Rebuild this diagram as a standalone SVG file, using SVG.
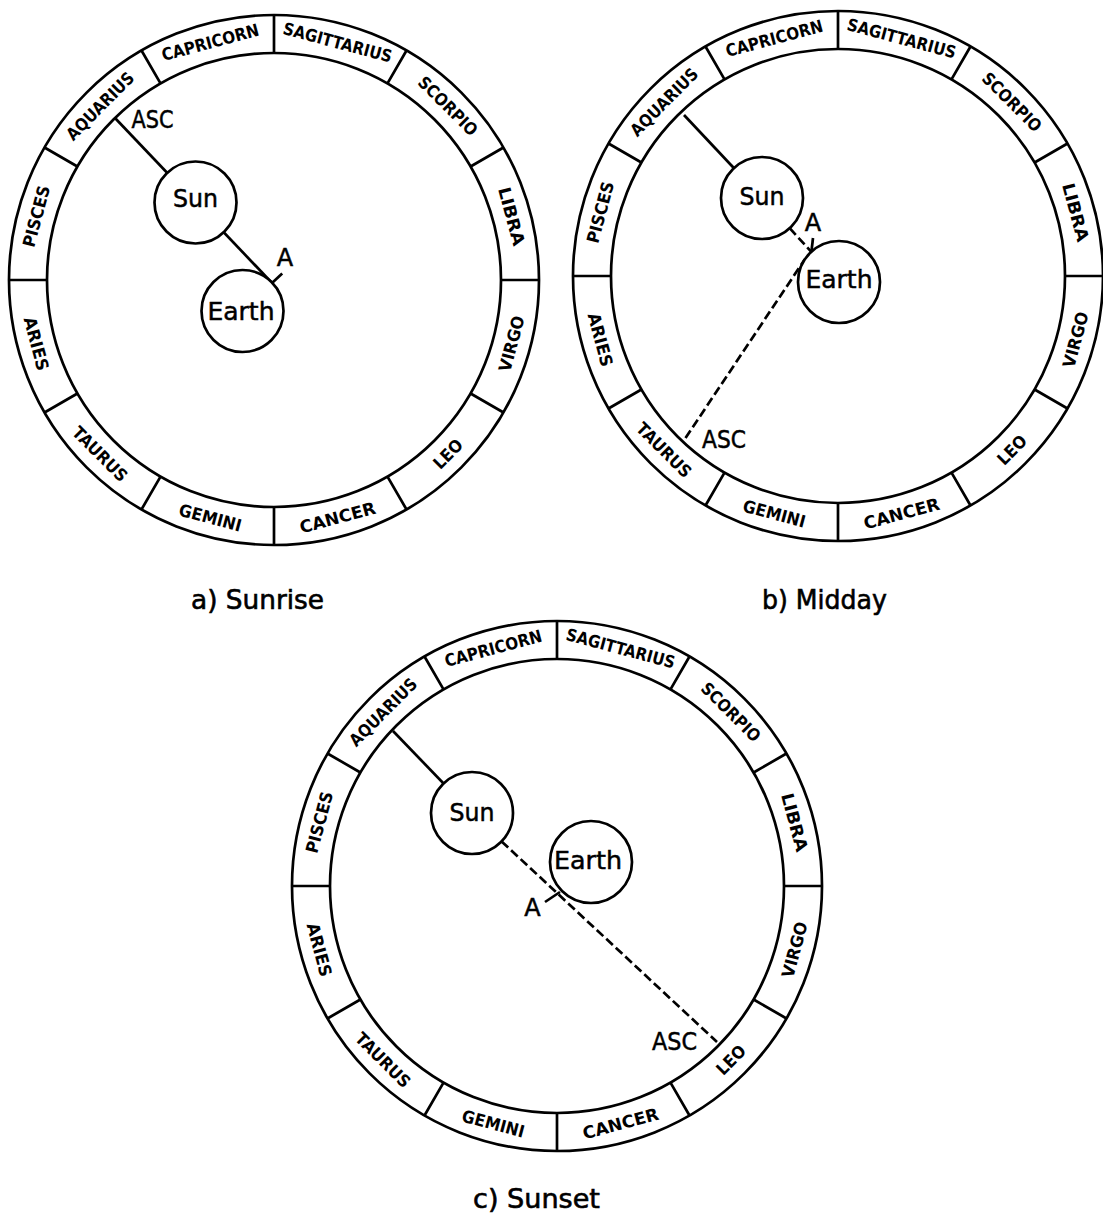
<svg xmlns="http://www.w3.org/2000/svg" width="1103" height="1222" viewBox="0 0 1103 1222">
<style>
.ring{fill:none;stroke:#000;stroke-width:2.7}
.sign{font-family:"DejaVu Sans",sans-serif;font-weight:bold;font-size:17px;text-anchor:middle;fill:#000}
.body{fill:#fff;stroke:#000;stroke-width:2.7}
.lbl{font-family:"DejaVu Sans",sans-serif;font-size:24px;fill:#000;stroke:#000;stroke-width:0.5}
.mid{text-anchor:middle}
.solid{stroke:#000;stroke-width:2.7;fill:none}
.dash{stroke:#000;stroke-width:2.7;stroke-dasharray:9 4;fill:none}
.cap{font-family:"DejaVu Sans",sans-serif;font-size:26px;text-anchor:middle;fill:#000;stroke:#000;stroke-width:0.6}
</style>
<rect width="1103" height="1222" fill="#fff"/>

<g id="wheel-a" transform="translate(274,280)">
<circle class="ring" r="265"/><circle class="ring" r="227"/>
<path class="ring" d="M0,-227V-265M113.5,-196.6L132.5,-229.5M196.6,-113.5L229.5,-132.5M227,0H265M196.6,113.5L229.5,132.5M113.5,196.6L132.5,229.5M0,227V265M-113.5,196.6L-132.5,229.5M-196.6,113.5L-229.5,132.5M-227,0H-265M-196.6,-113.5L-229.5,-132.5M-113.5,-196.6L-132.5,-229.5"/>
<text class="sign" transform="translate(63.67,-237.62) rotate(15)" y="6" textLength="112" lengthAdjust="spacingAndGlyphs">SAGITTARIUS</text>
<text class="sign" transform="translate(173.95,-173.95) rotate(45)" y="6" textLength="76" lengthAdjust="spacingAndGlyphs">SCORPIO</text>
<text class="sign" transform="translate(237.62,-63.67) rotate(75)" y="6" textLength="60" lengthAdjust="spacingAndGlyphs">LIBRA</text>
<text class="sign" transform="translate(237.62,63.67) rotate(-75)" y="6" textLength="57" lengthAdjust="spacingAndGlyphs">VIRGO</text>
<text class="sign" transform="translate(173.95,173.95) rotate(-45)" y="6" textLength="34" lengthAdjust="spacingAndGlyphs">LEO</text>
<text class="sign" transform="translate(63.67,237.62) rotate(-15)" y="6" textLength="78" lengthAdjust="spacingAndGlyphs">CANCER</text>
<text class="sign" transform="translate(-63.67,237.62) rotate(15)" y="6" textLength="64" lengthAdjust="spacingAndGlyphs">GEMINI</text>
<text class="sign" transform="translate(-173.95,173.95) rotate(45)" y="6" textLength="70" lengthAdjust="spacingAndGlyphs">TAURUS</text>
<text class="sign" transform="translate(-237.62,63.67) rotate(75)" y="6" textLength="55" lengthAdjust="spacingAndGlyphs">ARIES</text>
<text class="sign" transform="translate(-237.62,-63.67) rotate(-75)" y="6" textLength="63" lengthAdjust="spacingAndGlyphs">PISCES</text>
<text class="sign" transform="translate(-173.95,-173.95) rotate(-45)" y="6" textLength="88" lengthAdjust="spacingAndGlyphs">AQUARIUS</text>
<text class="sign" transform="translate(-63.67,-237.62) rotate(-15)" y="6" textLength="100" lengthAdjust="spacingAndGlyphs">CAPRICORN</text>
</g>

<g id="wheel-b" transform="translate(838,276)">
<circle class="ring" r="265"/><circle class="ring" r="227"/>
<path class="ring" d="M0,-227V-265M113.5,-196.6L132.5,-229.5M196.6,-113.5L229.5,-132.5M227,0H265M196.6,113.5L229.5,132.5M113.5,196.6L132.5,229.5M0,227V265M-113.5,196.6L-132.5,229.5M-196.6,113.5L-229.5,132.5M-227,0H-265M-196.6,-113.5L-229.5,-132.5M-113.5,-196.6L-132.5,-229.5"/>
<text class="sign" transform="translate(63.67,-237.62) rotate(15)" y="6" textLength="112" lengthAdjust="spacingAndGlyphs">SAGITTARIUS</text>
<text class="sign" transform="translate(173.95,-173.95) rotate(45)" y="6" textLength="76" lengthAdjust="spacingAndGlyphs">SCORPIO</text>
<text class="sign" transform="translate(237.62,-63.67) rotate(75)" y="6" textLength="60" lengthAdjust="spacingAndGlyphs">LIBRA</text>
<text class="sign" transform="translate(237.62,63.67) rotate(-75)" y="6" textLength="57" lengthAdjust="spacingAndGlyphs">VIRGO</text>
<text class="sign" transform="translate(173.95,173.95) rotate(-45)" y="6" textLength="34" lengthAdjust="spacingAndGlyphs">LEO</text>
<text class="sign" transform="translate(63.67,237.62) rotate(-15)" y="6" textLength="78" lengthAdjust="spacingAndGlyphs">CANCER</text>
<text class="sign" transform="translate(-63.67,237.62) rotate(15)" y="6" textLength="64" lengthAdjust="spacingAndGlyphs">GEMINI</text>
<text class="sign" transform="translate(-173.95,173.95) rotate(45)" y="6" textLength="70" lengthAdjust="spacingAndGlyphs">TAURUS</text>
<text class="sign" transform="translate(-237.62,63.67) rotate(75)" y="6" textLength="55" lengthAdjust="spacingAndGlyphs">ARIES</text>
<text class="sign" transform="translate(-237.62,-63.67) rotate(-75)" y="6" textLength="63" lengthAdjust="spacingAndGlyphs">PISCES</text>
<text class="sign" transform="translate(-173.95,-173.95) rotate(-45)" y="6" textLength="88" lengthAdjust="spacingAndGlyphs">AQUARIUS</text>
<text class="sign" transform="translate(-63.67,-237.62) rotate(-15)" y="6" textLength="100" lengthAdjust="spacingAndGlyphs">CAPRICORN</text>
</g>

<g id="wheel-c" transform="translate(557,886)">
<circle class="ring" r="265"/><circle class="ring" r="227"/>
<path class="ring" d="M0,-227V-265M113.5,-196.6L132.5,-229.5M196.6,-113.5L229.5,-132.5M227,0H265M196.6,113.5L229.5,132.5M113.5,196.6L132.5,229.5M0,227V265M-113.5,196.6L-132.5,229.5M-196.6,113.5L-229.5,132.5M-227,0H-265M-196.6,-113.5L-229.5,-132.5M-113.5,-196.6L-132.5,-229.5"/>
<text class="sign" transform="translate(63.67,-237.62) rotate(15)" y="6" textLength="112" lengthAdjust="spacingAndGlyphs">SAGITTARIUS</text>
<text class="sign" transform="translate(173.95,-173.95) rotate(45)" y="6" textLength="76" lengthAdjust="spacingAndGlyphs">SCORPIO</text>
<text class="sign" transform="translate(237.62,-63.67) rotate(75)" y="6" textLength="60" lengthAdjust="spacingAndGlyphs">LIBRA</text>
<text class="sign" transform="translate(237.62,63.67) rotate(-75)" y="6" textLength="57" lengthAdjust="spacingAndGlyphs">VIRGO</text>
<text class="sign" transform="translate(173.95,173.95) rotate(-45)" y="6" textLength="34" lengthAdjust="spacingAndGlyphs">LEO</text>
<text class="sign" transform="translate(63.67,237.62) rotate(-15)" y="6" textLength="78" lengthAdjust="spacingAndGlyphs">CANCER</text>
<text class="sign" transform="translate(-63.67,237.62) rotate(15)" y="6" textLength="64" lengthAdjust="spacingAndGlyphs">GEMINI</text>
<text class="sign" transform="translate(-173.95,173.95) rotate(45)" y="6" textLength="70" lengthAdjust="spacingAndGlyphs">TAURUS</text>
<text class="sign" transform="translate(-237.62,63.67) rotate(75)" y="6" textLength="55" lengthAdjust="spacingAndGlyphs">ARIES</text>
<text class="sign" transform="translate(-237.62,-63.67) rotate(-75)" y="6" textLength="63" lengthAdjust="spacingAndGlyphs">PISCES</text>
<text class="sign" transform="translate(-173.95,-173.95) rotate(-45)" y="6" textLength="88" lengthAdjust="spacingAndGlyphs">AQUARIUS</text>
<text class="sign" transform="translate(-63.67,-237.62) rotate(-15)" y="6" textLength="100" lengthAdjust="spacingAndGlyphs">CAPRICORN</text>
</g>

<g id="connectors">
<line class="solid" x1="115" y1="118" x2="272" y2="283"/>
<line class="solid" x1="272" y1="283" x2="282.2" y2="273.4"/>
<line class="solid" x1="684" y1="115" x2="762" y2="198"/>
<line class="dash" x1="789.7" y1="228.2" x2="811.3" y2="251.8"/>
<line class="solid" x1="811.5" y1="251" x2="813" y2="238"/>
<line class="dash" x1="685.5" y1="438" x2="804.9" y2="259.2"/>
<line class="solid" x1="393" y1="731" x2="472" y2="813"/>
<line class="dash" x1="501.6" y1="841.4" x2="717" y2="1042"/>
<line class="solid" x1="560" y1="892" x2="545" y2="902"/>
</g>

<g id="sun-a"><circle class="body" cx="195.5" cy="202.5" r="41"/><text class="lbl mid" x="195.5" y="207" textLength="45" lengthAdjust="spacingAndGlyphs">Sun</text></g>
<g id="earth-a"><circle class="body" cx="242.5" cy="311" r="41"/><text class="lbl mid" x="241" y="320" textLength="67" lengthAdjust="spacingAndGlyphs">Earth</text></g>
<g id="labels-a">
<text class="lbl" x="131.5" y="128" textLength="42" lengthAdjust="spacingAndGlyphs">ASC</text>
<text class="lbl mid" x="285" y="266">A</text>
</g>

<g id="sun-b"><circle class="body" cx="762" cy="198" r="41"/><text class="lbl mid" x="762" y="205" textLength="45" lengthAdjust="spacingAndGlyphs">Sun</text></g>
<g id="earth-b"><circle class="body" cx="839" cy="282" r="41"/><text class="lbl mid" x="839" y="288" textLength="67" lengthAdjust="spacingAndGlyphs">Earth</text></g>
<g id="labels-b">
<text class="lbl" x="702" y="448" textLength="44" lengthAdjust="spacingAndGlyphs">ASC</text>
<text class="lbl mid" x="813" y="231">A</text>
</g>

<g id="sun-c"><circle class="body" cx="472" cy="813" r="41"/><text class="lbl mid" x="472" y="821" textLength="45" lengthAdjust="spacingAndGlyphs">Sun</text></g>
<g id="earth-c"><circle class="body" cx="591" cy="862" r="41"/><text class="lbl mid" x="588" y="869" textLength="68" lengthAdjust="spacingAndGlyphs">Earth</text></g>
<g id="labels-c">
<text class="lbl" x="652" y="1050" textLength="45" lengthAdjust="spacingAndGlyphs">ASC</text>
<text class="lbl mid" x="532.5" y="916">A</text>
</g>

<g id="captions">
<text class="cap" x="257.5" y="609" textLength="133" lengthAdjust="spacingAndGlyphs">a) Sunrise</text>
<text class="cap" x="824.5" y="609" textLength="125" lengthAdjust="spacingAndGlyphs">b) Midday</text>
<text class="cap" x="536.5" y="1208" textLength="127" lengthAdjust="spacingAndGlyphs">c) Sunset</text>
</g>
</svg>
